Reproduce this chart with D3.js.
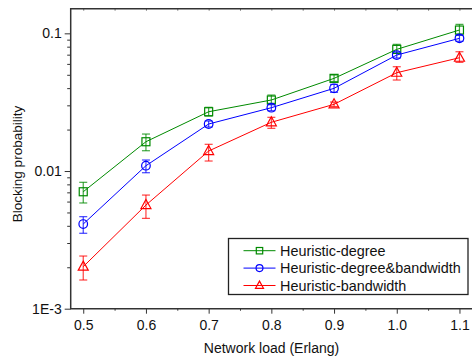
<!DOCTYPE html>
<html lang="en">
    <head>
        <meta charset="utf-8">
        <title>Blocking probability</title>
        <script type="text/javascript" src="https://cdn.jsdelivr.net/npm/d3@7/dist/d3.min.js"></script>
        <style>
            body { margin: 0; background: #fff; }
            text { font-family: Arial, "Liberation Sans", sans-serif; fill: #111; }
        </style>
    </head>
    <body>
        <script type="text/javascript">

            // network load (Erlang)
            var loads = [0.5, 0.6, 0.7, 0.8, 0.9, 1.0, 1.1];

            // Heuristic-degree
            var degMean = [0.00707, 0.01632, 0.02695, 0.03279, 0.0471, 0.0765, 0.1057];
            var degLow  = [0.00586, 0.01404, 0.02508, 0.03101, 0.04467, 0.0716, 0.0972];
            var degHigh = [0.00828, 0.01856, 0.02902, 0.03563, 0.04981, 0.0832, 0.1162];

            // Heuristic-degree&bandwidth
            var dbMean = [0.00412, 0.01093, 0.02195, 0.02883, 0.03987, 0.06957, 0.09199];
            var dbLow  = [0.00353, 0.00972, 0.02087, 0.02741, 0.03728, 0.06617, 0.0875];
            var dbHigh = [0.00466, 0.01202, 0.02308, 0.03031, 0.04263, 0.07314, 0.0967];

            // Heuristic-bandwidth
            var bwMean = [0.00202, 0.00566, 0.01397, 0.02259, 0.03051, 0.05175, 0.06649];
            var bwLow  = [0.001616, 0.00453, 0.01182, 0.02042, 0.02941, 0.04581, 0.06158];
            var bwHigh = [0.002413, 0.00669, 0.01563, 0.02455, 0.0317, 0.05722, 0.07351];

            var xTicks = [0.5, 0.6, 0.7, 0.8, 0.9, 1.0, 1.1];
            var xMinor = [0.55, 0.65, 0.75, 0.85, 0.95, 1.05];
            var yTicks = [0.001, 0.01, 0.1];
            var yTickLabels = ["1E-3", "0.01", "0.1"];

            var series = [
                {name: "Heuristic-degree", color: "#008a00", shape: "square", mean: degMean, lo: degLow, hi: degHigh},
                {name: "Heuristic-degree&bandwidth", color: "#0000ff", shape: "circle", mean: dbMean, lo: dbLow, hi: dbHigh},
                {name: "Heuristic-bandwidth", color: "#ff0000", shape: "triangle", mean: bwMean, lo: bwLow, hi: bwHigh}
            ];

            var w = 472;
            var h = 358;
            var plotLeft = 70.7, plotTop = 8.7, plotBottom = 308.7;

            var xScale = d3.scaleLinear()
                    .domain([0.48, 1.12])
                    .range([plotLeft, 472]);

            var yScale = d3.scaleLog()
                    .domain([0.001, 0.151])
                    .range([plotBottom, plotTop]);

            var svg = d3.select("body")
                    .append("svg")
                    .attr("width", w)
                    .attr("height", h);

            // minor log ticks on y
            var yMinor = [];
            [0.001, 0.01, 0.1].forEach(function(dec) {
                for (var k = 2; k <= 9; k++) {
                    if (dec * k < 0.151) yMinor.push(dec * k);
                }
            });

            var axisColor = "#333";

            // bottom axis
            var xAxis = d3.axisBottom(xScale)
                    .tickValues(xTicks)
                    .tickSize(5)
                    .tickFormat(d3.format(".1f"));
            var gx = svg.append("g")
                    .attr("transform", "translate(0," + plotBottom + ")")
                    .call(xAxis);
            gx.select(".domain").remove();
            gx.selectAll("line").attr("stroke", axisColor);
            gx.selectAll("text").attr("font-size", "14px").attr("dy", "0.98em");

            svg.append("g")
                    .attr("transform", "translate(0," + plotBottom + ")")
                    .call(d3.axisBottom(xScale).tickValues(xMinor).tickSize(2).tickFormat(""))
                    .call(function(g) { g.select(".domain").remove(); g.selectAll("line").attr("stroke", axisColor); });

            // top frame ticks (inward)
            svg.append("g")
                    .attr("transform", "translate(0," + plotTop + ")")
                    .call(d3.axisTop(xScale).tickValues(xTicks.concat(xMinor)).tickSize(-2).tickFormat(""))
                    .call(function(g) { g.select(".domain").remove(); g.selectAll("line").attr("stroke", "#777"); });

            // left axis
            var yAxis = d3.axisLeft(yScale)
                    .tickValues(yTicks)
                    .tickSize(6)
                    .tickFormat(function(d, i) { return yTickLabels[i]; });
            var gy = svg.append("g")
                    .attr("transform", "translate(" + plotLeft + ",0)")
                    .call(yAxis);
            gy.select(".domain").remove();
            gy.selectAll("line").attr("stroke", axisColor);
            gy.selectAll("text").attr("font-size", "14px").attr("x", -9);

            svg.append("g")
                    .attr("transform", "translate(" + plotLeft + ",0)")
                    .call(d3.axisLeft(yScale).tickValues(yMinor).tickSize(3.5).tickFormat(""))
                    .call(function(g) { g.select(".domain").remove(); g.selectAll("line").attr("stroke", axisColor); });

            // frame lines
            svg.append("path")
                    .attr("d", "M472," + plotTop + "H" + plotLeft + "V" + plotBottom + "H472")
                    .attr("fill", "none")
                    .attr("stroke", axisColor)
                    .attr("stroke-width", 1.5);

            var line = d3.line()
                    .x(function(d) { return xScale(d[0]); })
                    .y(function(d) { return yScale(d[1]); });

            function marker(g, shape, color, k) {
                k = k || 1;
                if (shape === "square") {
                    g.append("rect").attr("x", -4 * k).attr("y", -4 * k).attr("width", 8 * k).attr("height", 8 * k)
                        .attr("fill", "none").attr("stroke", color).attr("stroke-width", 1.2);
                } else if (shape === "circle") {
                    g.append("circle").attr("r", 4.3 * k)
                        .attr("fill", "none").attr("stroke", color).attr("stroke-width", 1.2);
                } else {
                    g.append("path").attr("d", "M0," + (-5.5 * k) + "L" + (5 * k) + "," + (3.5 * k) + "L" + (-5 * k) + "," + (3.5 * k) + "Z")
                        .attr("fill", "none").attr("stroke", color).attr("stroke-width", 1.2);
                }
            }

            series.forEach(function(s) {
                var pts = loads.map(function(x, i) { return [x, s.mean[i], s.lo[i], s.hi[i]]; });
                var g = svg.append("g");

                g.append("path")
                        .datum(pts)
                        .attr("d", line)
                        .attr("fill", "none")
                        .attr("stroke", s.color)
                        .attr("stroke-width", 1);

                var eb = g.selectAll(".eb")
                        .data(pts)
                        .enter()
                        .append("g")
                        .attr("stroke", s.color)
                        .attr("stroke-opacity", 0.75)
                        .attr("stroke-width", 1.2);
                eb.append("line")
                        .attr("x1", function(d) { return xScale(d[0]); })
                        .attr("x2", function(d) { return xScale(d[0]); })
                        .attr("y1", function(d) { return yScale(d[2]); })
                        .attr("y2", function(d) { return yScale(d[3]); });
                eb.append("line")
                        .attr("x1", function(d) { return xScale(d[0]) - 4; })
                        .attr("x2", function(d) { return xScale(d[0]) + 4; })
                        .attr("y1", function(d) { return yScale(d[2]); })
                        .attr("y2", function(d) { return yScale(d[2]); });
                eb.append("line")
                        .attr("x1", function(d) { return xScale(d[0]) - 4; })
                        .attr("x2", function(d) { return xScale(d[0]) + 4; })
                        .attr("y1", function(d) { return yScale(d[3]); })
                        .attr("y2", function(d) { return yScale(d[3]); });

                g.selectAll(".mk")
                        .data(pts)
                        .enter()
                        .append("g")
                        .attr("transform", function(d) { return "translate(" + xScale(d[0]) + "," + yScale(d[1]) + ")"; })
                        .each(function() { marker(d3.select(this), s.shape, s.color); });
            });

            // legend
            var lg = svg.append("g").attr("transform", "translate(228.5,238.5)");
            lg.append("rect")
                    .attr("width", 239.5)
                    .attr("height", 56)
                    .attr("fill", "#fff")
                    .attr("stroke", "#222")
                    .attr("stroke-width", 1.3);
            series.forEach(function(s, i) {
                var row = lg.append("g").attr("transform", "translate(0," + (12.2 + i * 17.4) + ")");
                row.append("line")
                        .attr("x1", 15).attr("x2", 47)
                        .attr("stroke", s.color).attr("stroke-width", 1);
                var m = row.append("g").attr("transform", "translate(31,0)");
                marker(m, s.shape, s.color, 0.8);
                row.append("text")
                        .attr("x", 51.5)
                        .attr("dy", "0.36em")
                        .attr("font-size", "14.4px")
                        .text(s.name);
            });

            // axis titles
            svg.append("text")
                    .attr("x", 271.5)
                    .attr("y", 353)
                    .attr("text-anchor", "middle")
                    .attr("font-size", "14px")
                    .text("Network load (Erlang)");

            svg.append("text")
                    .attr("transform", "translate(22,164) rotate(-90)")
                    .attr("text-anchor", "middle")
                    .attr("font-size", "13.5px")
                    .text("Blocking probability");

        </script>
    </body>
</html>
